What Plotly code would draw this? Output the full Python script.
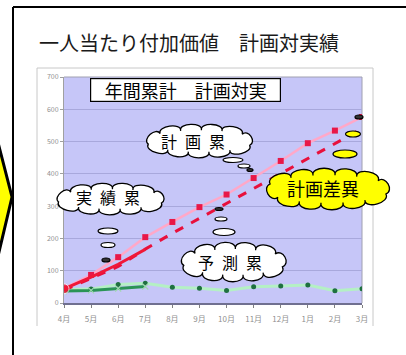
import math
import plotly.graph_objects as go

# ---------------- data ----------------
months = ["4月", "5月", "6月", "7月", "8月", "9月", "10月", "11月", "12月", "1月", "2月", "3月"]
plan_cum = [45, 87, 142, 204, 251, 297, 336, 387, 440, 495, 534, 576]
forecast_cum = [40, 77, 113, 167, 216, 262, 308, 354, 400, 446, 494, 540]
actual_cum = [44, 80, 120, 166]
plan_monthly = [42, 43, 57, 61, 49, 46, 39, 50, 53, 56, 38, 44]
actual_monthly = [37, 39, 45, 51]
y_ticks = [0, 100, 200, 300, 400, 500, 600, 700]

FONT = "Noto Sans CJK JP"
W, H = 406, 355
L, R, T, B = 64, 362, 77, 303


def X(px):
    return (px - L) / (R - L)


def Y(py):
    return (B - py) / (B - T)


fig = go.Figure()

fig.add_trace(go.Scatter(
    x=months, y=plan_monthly, mode="lines+markers",
    line=dict(color="#b4f0c4", width=3),
    marker=dict(color="#1f7040", size=5, symbol="circle"),
    hoverinfo="skip", showlegend=False))
fig.add_trace(go.Scatter(
    x=months[:len(actual_monthly)], y=actual_monthly, mode="lines+markers",
    line=dict(color="#2a9456", width=3),
    marker=dict(color="#a0d8b0", size=6, symbol="x-thin-open", line=dict(width=1.2, color="#90c8a0")),
    hoverinfo="skip", showlegend=False))
fig.add_trace(go.Scatter(
    x=months, y=plan_cum, mode="lines+markers",
    line=dict(color="#ffa8c8", width=2.5),
    marker=dict(color="#e81848", size=6, symbol="square"),
    hoverinfo="skip", showlegend=False))
fig.add_trace(go.Scatter(
    x=months, y=forecast_cum, mode="lines+markers",
    line=dict(color="#e8103c", width=3, dash="dash"),
    marker=dict(color="rgba(0,0,0,0)", size=8, symbol="circle-open",
                line=dict(color="#ff90b0", width=1.5)),
    hoverinfo="skip", showlegend=False))
fig.add_trace(go.Scatter(
    x=months[:len(actual_cum)], y=actual_cum, mode="lines+markers",
    line=dict(color="#f01838", width=3),
    marker=dict(color="#f01838", size=[10, 0, 0, 0], symbol="circle"),
    hoverinfo="skip", showlegend=False))

shapes = []
annotations = []


def pline(x0, y0, x1, y1, color, width, layer="above"):
    shapes.append(dict(type="line", xref="paper", yref="paper",
                       x0=X(x0), y0=Y(y0), x1=X(x1), y1=Y(y1),
                       line=dict(color=color, width=width), layer=layer))


# plot-area right/top border
pline(R, T, R, B, "#a0a0b0", 1, "below")
pline(L, T, R, T, "#a0a0b0", 1, "below")
# slide frame
pline(13, 7, 420, 7, "#000000", 2)
pline(13, 7, 13, 370, "#000000", 2)
# chart box
pline(37, 68, 373, 68, "#c8c8c8", 1)
pline(37, 68, 37, 326, "#c8c8c8", 1)
pline(373, 68, 373, 326, "#c8c8c8", 1)

# yellow arrow on the left
arrow = [(-6, 127), (12, 197), (-6, 273)]
path = "M " + " L ".join(f"{X(a)},{Y(b)}" for a, b in arrow) + " Z"
shapes.append(dict(type="path", xref="paper", yref="paper", path=path,
                   fillcolor="#ffff00", line=dict(color="#000000", width=3), layer="above"))


def cloud(cx, cy, hw, hh, n, b, fill):
    rx, ry = hw - b, hh - b
    m = 720
    pts = [(cx + rx * math.cos(2 * math.pi * k / m), cy + ry * math.sin(2 * math.pi * k / m)) for k in range(m + 1)]
    cum = [0.0]
    for k in range(1, len(pts)):
        cum.append(cum[-1] + math.dist(pts[k], pts[k - 1]))
    per = cum[-1]
    sel = []
    j = 0
    for i in range(n):
        target = per * (i + 0.3) / n
        while cum[j] < target:
            j += 1
        sel.append(pts[j])
    d = f"M {X(sel[0][0])},{Y(sel[0][1])}"
    for i in range(n):
        p0 = sel[i]
        p1 = sel[(i + 1) % n]
        dx, dy = p1[0] - p0[0], p1[1] - p0[1]
        ln = math.hypot(dx, dy)
        nx, ny = dy / ln, -dx / ln
        mx, my = (p0[0] + p1[0]) / 2 - cx, (p0[1] + p1[1]) / 2 - cy
        if nx * mx + ny * my < 0:
            nx, ny = -nx, -ny
        k = 4 / 3 * b
        c1 = (p0[0] + k * nx - 0.1 * dx, p0[1] + k * ny - 0.1 * dy)
        c2 = (p1[0] + k * nx + 0.1 * dx, p1[1] + k * ny + 0.1 * dy)
        d += (f" C {X(c1[0])},{Y(c1[1])} {X(c2[0])},{Y(c2[1])} {X(p1[0])},{Y(p1[1])}")
    d += " Z"
    shapes.append(dict(type="path", xref="paper", yref="paper", path=d,
                       fillcolor=fill, line=dict(color="#000000", width=1.3), layer="above"))


def bubble(cx, cy, w, h, fill):
    shapes.append(dict(type="circle", xref="paper", yref="paper",
                       x0=X(cx - w / 2), x1=X(cx + w / 2), y0=Y(cy + h / 2), y1=Y(cy - h / 2),
                       fillcolor=fill, line=dict(color="#000000", width=1.2), layer="above"))


def text(s, px, py, size, anchor="center"):
    annotations.append(dict(text=s, xref="paper", yref="paper", x=X(px), y=Y(py),
                            xanchor=anchor, yanchor="middle", showarrow=False,
                            font=dict(family=FONT, size=size, color="#000000")))


SP = "\u2002"

# 計画累 cloud
cloud(200, 141, 60, 17, 11, 6, "#ffffff")
bubble(233, 160, 20, 5, "#ffffff")
bubble(244, 166, 12, 4, "#ffffff")
bubble(250, 170, 6, 3, "#333333")
text(f"計{SP}画{SP}累", 193, 141, 16)

# 実績累 cloud
cloud(111, 199, 61, 16, 11, 6, "#ffffff")
bubble(108, 231, 20, 6, "#ffffff")
bubble(108, 245, 14, 5, "#ffffff")
bubble(106, 260, 8, 4, "#333333")
text(f"実{SP}績{SP}累", 108, 197, 16)

# 予測累 cloud
cloud(234, 262, 59, 20, 11, 7, "#ffffff")
bubble(224, 232, 22, 7, "#ffffff")
bubble(221, 219, 12, 4, "#ffffff")
bubble(219, 209, 8, 3, "#333333")
text(f"予{SP}測{SP}累", 230, 262, 16)

# 計画差異 cloud (yellow)
cloud(328, 189, 69, 21, 12, 7, "#ffff00")
bubble(345, 154, 24, 8, "#ffff00")
bubble(353, 134, 15, 6, "#ffff00")
bubble(359, 117, 8, 4, "#333333")
text("計画差異", 323, 188, 18)

# boxed sub-title
annotations.append(dict(text="年間累計　計画対実", xref="paper", yref="paper",
                        x=X(90), y=Y(90), xanchor="left", yanchor="middle", showarrow=False,
                        font=dict(family=FONT, size=18, color="#000000"),
                        bgcolor="#ffffff", bordercolor="#000000", borderwidth=1.2,
                        borderpad=0, width=189, height=22, align="center"))

# main title
annotations.append(dict(text="一人当たり付加価値　計画対実績", xref="paper", yref="paper",
                        x=X(37), y=Y(42), xanchor="left", yanchor="middle", showarrow=False,
                        font=dict(family=FONT, size=20, color="#1a1a1a")))

fig.update_layout(
    width=W, height=H,
    margin=dict(l=L, r=W - R, t=T, b=H - B),
    paper_bgcolor="#ffffff", plot_bgcolor="#c6c6f8",
    shapes=shapes, annotations=annotations,
    xaxis=dict(type="category", range=[0, len(months) - 1], showgrid=False,
               showline=True, linecolor="#707090", linewidth=1.5, mirror=False,
               ticks="outside", ticklen=3, tickcolor="#808080", ticklabelstandoff=5,
               tickfont=dict(family=FONT, size=8, color="#909090"), fixedrange=True),
    yaxis=dict(range=[0, 700], tickvals=y_ticks, showgrid=True, gridcolor="#a8a8dc", gridwidth=1,
               showline=True, linecolor="#a0a0a0", linewidth=1, mirror=False,
               ticks="outside", ticklen=3, tickcolor="#a0a0a0", zeroline=False,
               tickfont=dict(family=FONT, size=7, color="#909090"), fixedrange=True),
)

fig.write_html("out.html")
